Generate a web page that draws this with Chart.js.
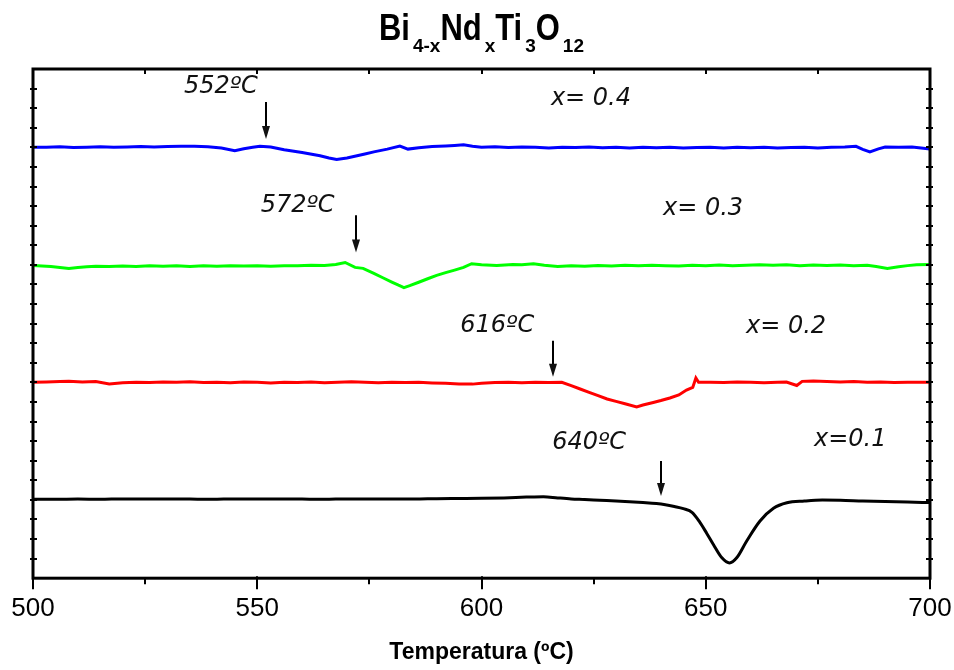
<!DOCTYPE html>
<html>
<head>
<meta charset="utf-8">
<script src="https://cdn.jsdelivr.net/npm/chart.js@4"></script>
<style>
  html, body { margin: 0; padding: 0; background: #ffffff; }
  canvas { display: block; }
</style>
</head>
<body>
<canvas id="dta" width="954" height="670"></canvas>
<script>
// Temperature axis (ºC)
const xMin = 500;
const xMax = 700;
const xMajorStep = 50;

// DTA traces, offset vertically per composition (arbitrary units)
const blueT = [500, 503, 506, 509, 512, 515, 518, 521, 524, 527, 530, 533, 536, 539, 542, 545, 547, 549, 550.6, 553,
  556, 560, 564, 566, 567.7, 570, 572, 574, 576, 579, 581.8, 583.6, 586, 589, 592, 594, 596, 598, 600, 603,
  606, 609, 612, 615, 618, 621, 624, 627, 630, 633, 636, 639, 642, 645, 648, 651, 654, 657, 660, 663,
  666, 669, 672, 675, 678, 681, 683.5, 685, 686.6, 688.5, 690, 693, 696, 698, 700];
const blueV = [22.01, 22.00, 22.03, 21.99, 22.01, 22.03, 22.00, 22.02, 22.04, 22.02, 22.04, 22.06, 22.05, 22.03, 21.97, 21.83, 21.93, 22.00, 22.06, 22.02,
  21.88, 21.74, 21.57, 21.46, 21.38, 21.46, 21.56, 21.66, 21.77, 21.91, 22.06, 21.91, 21.98, 22.04, 22.07, 22.10, 22.13, 22.06, 22.01, 22.03,
  21.99, 22.02, 22.00, 21.97, 22.01, 21.99, 22.02, 21.98, 22.00, 21.96, 22.00, 21.98, 22.01, 21.97, 21.99, 22.01, 21.97, 22.00, 21.98, 22.01,
  21.97, 21.99, 22.00, 21.97, 22.00, 22.02, 22.05, 21.90, 21.77, 21.92, 22.02, 22.00, 22.02, 21.97, 21.92];

const greenT = [500, 502, 504, 506, 508, 510, 512, 514, 517, 520, 523, 526, 529, 532, 535, 538, 541, 544, 547, 550,
  553, 556, 559, 562, 565, 567.5, 569.6, 571.8, 573.6, 576, 578, 580, 581.5, 582.7, 584, 586, 588, 590, 592, 594,
  596, 597.8, 600, 603.4, 607, 609, 611.6, 614, 617, 620, 623, 626, 629, 632, 635, 638, 641, 644, 647, 650,
  653, 656, 659, 662, 665, 668, 671, 674, 677, 680, 683, 686, 688, 690.5, 693, 695, 697, 700];
const greenV = [15.97, 15.94, 15.92, 15.87, 15.82, 15.86, 15.90, 15.93, 15.91, 15.94, 15.92, 15.95, 15.93, 15.96, 15.92, 15.95, 15.93, 15.96, 15.94, 15.96,
  15.93, 15.96, 15.95, 15.98, 15.97, 16.02, 16.12, 15.87, 15.82, 15.56, 15.34, 15.12, 14.96, 14.84, 14.94, 15.11, 15.29, 15.46, 15.60, 15.73,
  15.87, 16.06, 16.00, 15.97, 16.02, 16.00, 16.06, 15.98, 15.92, 15.96, 15.93, 15.97, 15.94, 15.98, 15.95, 15.98, 15.96, 15.94, 15.98, 15.95,
  15.99, 15.96, 15.98, 16.01, 15.98, 16.00, 15.96, 15.99, 15.97, 15.99, 15.96, 15.98, 15.92, 15.82, 15.90, 15.96, 16.00, 16.02];

const redT = [500, 503, 506, 508, 511, 514, 517, 520, 523, 526, 529, 532, 535, 538, 541, 544, 547, 550, 553, 556,
  559, 562, 565, 568, 571, 574, 577, 580, 583, 586, 589, 592, 595, 598, 600, 603, 606, 609, 612, 615,
  617.9, 620, 622, 624, 626, 628, 630, 632, 634.6, 636, 638.3, 640, 642, 644, 645.7, 647.1, 647.8, 648.4, 651, 654,
  657, 660, 663, 666, 668, 670.3, 671.5, 674, 677, 680, 683, 686, 689, 692, 695, 698, 700];
const redV = [10.00, 10.02, 10.04, 10.06, 10.02, 10.04, 9.92, 9.98, 10.01, 9.99, 10.02, 10.00, 10.03, 9.99, 10.01, 9.98, 10.02, 10.00, 9.97, 10.01,
  9.99, 10.02, 9.98, 10.00, 10.03, 10.00, 9.98, 10.01, 9.99, 10.00, 9.97, 9.95, 9.92, 9.91, 9.96, 9.99, 10.01, 9.98, 10.00, 9.99,
  10.00, 9.83, 9.66, 9.49, 9.32, 9.15, 9.03, 8.91, 8.75, 8.84, 8.97, 9.07, 9.20, 9.36, 9.61, 9.74, 10.22, 10.00, 10.01, 9.99,
  10.02, 10.00, 9.98, 10.01, 10.02, 9.84, 10.05, 10.07, 10.04, 10.02, 10.04, 10.00, 10.02, 9.99, 10.01, 10.00, 10.00];

const blackT = [500, 505, 510, 515, 520, 525, 530, 535, 540, 545, 550, 555, 560, 565, 570, 575, 580, 585, 590, 595,
  600, 605, 610, 613.8, 617, 620, 623, 626.4, 630, 633, 636, 639, 641, 643, 645, 647, 648.7, 650.2, 651.7, 653.6,
  655.3, 656.9, 659.1, 662.1, 665.1, 668.1, 672, 676, 680, 685, 690, 695, 700];
const blackV = [4.03, 4.03, 4.04, 4.03, 4.05, 4.04, 4.05, 4.04, 4.03, 4.05, 4.04, 4.05, 4.04, 4.03, 4.05, 4.04, 4.05, 4.04, 4.06, 4.07,
  4.08, 4.10, 4.14, 4.16, 4.10, 4.05, 4.02, 3.98, 3.94, 3.90, 3.86, 3.81, 3.75, 3.66, 3.55, 3.35, 2.85, 2.30, 1.72, 1.04,
  0.78, 1.04, 1.89, 2.92, 3.57, 3.85, 3.94, 3.99, 3.98, 3.94, 3.91, 3.89, 3.86];

// Onset temperatures marked with arrows, and composition labels
const onsetTemps = [552, 572, 616, 640];
const onsetLabels = ['552ºC', '572ºC', '616ºC', '640ºC'];
const compositionLabels = ['x= 0.4', 'x= 0.3', 'x= 0.2', 'x=0.1'];

// Where annotations sit, in axis units (temperature, signal)
const onsetTextAt = [[541.9, 24.77], [559.0, 18.68], [603.5, 12.55], [624.0, 6.60]];
const arrowSpan = [[24.31, 22.42], [18.53, 16.63], [12.13, 10.29], [5.99, 4.20]];
const compositionTextAt = [[624.4, 24.16], [649.4, 18.53], [667.9, 12.54], [682.2, 6.76]];

const SANS = '"Liberation Sans", Arial, Helvetica, sans-serif';
const NOTE_FONT = 'italic 24px "DejaVu Sans", "Liberation Sans", sans-serif';

function toPoints(ts, vs) {
  return ts.map((t, i) => ({ x: t, y: vs[i] }));
}

// Full box frame with Origin-style major and minor ticks
const framePlugin = {
  id: 'frame',
  afterDatasetsDraw(chart) {
    const { ctx, chartArea: a, scales } = chart;
    const xs = scales.x, ys = scales.y;
    ctx.save();
    ctx.strokeStyle = '#000';
    ctx.lineWidth = 3;
    ctx.strokeRect(a.left, a.top, a.right - a.left, a.bottom - a.top);
    ctx.lineWidth = 2;
    ctx.beginPath();
    xs.ticks.forEach(tk => {
      const px = Math.round(xs.getPixelForValue(tk.value));
      ctx.moveTo(px, a.bottom - 2); ctx.lineTo(px, a.bottom + 11);
    });
    for (let v = xMin + 25; v < xMax; v += 50) {
      const px = Math.round(xs.getPixelForValue(v));
      ctx.moveTo(px, a.bottom); ctx.lineTo(px, a.bottom + 6);
    }
    for (let v = xMin + 25; v < xMax; v += 25) {
      const px = Math.round(xs.getPixelForValue(v));
      ctx.moveTo(px, a.top); ctx.lineTo(px, a.top + 5);
    }
    for (let v = ys.min + 1; v < ys.max; v += 1) {
      const py = Math.round(ys.getPixelForValue(v));
      ctx.moveTo(a.left - 3, py); ctx.lineTo(a.left + 4, py);
      ctx.moveTo(a.right - 4, py); ctx.lineTo(a.right + 3, py);
    }
    ctx.stroke();
    ctx.restore();
  }
};

// Onset arrows and text notes
const notesPlugin = {
  id: 'notes',
  afterDraw(chart) {
    const { ctx, scales } = chart;
    const xs = scales.x, ys = scales.y;
    ctx.save();
    ctx.fillStyle = '#111';
    ctx.strokeStyle = '#000';
    ctx.font = NOTE_FONT;
    ctx.textAlign = 'center';
    ctx.textBaseline = 'alphabetic';
    onsetTemps.forEach((t, i) => {
      ctx.fillText(onsetLabels[i], xs.getPixelForValue(onsetTextAt[i][0]), ys.getPixelForValue(onsetTextAt[i][1]));
      ctx.fillText(compositionLabels[i], xs.getPixelForValue(compositionTextAt[i][0]), ys.getPixelForValue(compositionTextAt[i][1]));
      const px = Math.round(xs.getPixelForValue(t));
      const y0 = ys.getPixelForValue(arrowSpan[i][0]);
      const y1 = ys.getPixelForValue(arrowSpan[i][1]);
      ctx.lineWidth = 2;
      ctx.beginPath();
      ctx.moveTo(px, y0);
      ctx.lineTo(px, y1 - 10);
      ctx.stroke();
      ctx.beginPath();
      ctx.moveTo(px - 4, y1 - 13);
      ctx.lineTo(px + 4, y1 - 13);
      ctx.lineTo(px, y1);
      ctx.closePath();
      ctx.fill();
    });
    ctx.restore();
  }
};

// Chemical formula title with subscripts
const formulaPlugin = {
  id: 'formula',
  afterDraw(chart) {
    const { ctx, chartArea: a } = chart;
    const parts = [['Bi', false], ['4-x', true], ['Nd', false], ['x', true], ['Ti', false], ['3', true], ['O', false], ['12', true]];
    const mainFont = 'bold 36px ' + SANS;
    const subFont = 'bold 19px ' + SANS;
    const squeeze = 0.86;
    const gap = 3;
    ctx.save();
    let total = 0;
    const widths = parts.map(([s, sub]) => {
      ctx.font = sub ? subFont : mainFont;
      const w = ctx.measureText(s).width * (sub ? 1 : squeeze) + (sub ? gap : 0);
      total += w;
      return w;
    });
    let x = (a.left + a.right) / 2 - total / 2;
    const base = 40;
    ctx.fillStyle = '#000';
    ctx.textAlign = 'left';
    ctx.textBaseline = 'alphabetic';
    parts.forEach(([s, sub], i) => {
      if (sub) {
        ctx.font = subFont;
        ctx.fillText(s, x + gap, base + 12);
      } else {
        ctx.font = mainFont;
        ctx.save();
        ctx.translate(x, base);
        ctx.scale(squeeze, 1);
        ctx.fillText(s, 0, 0);
        ctx.restore();
      }
      x += widths[i];
    });
    ctx.restore();
  }
};

const traceStyle = { borderWidth: 3, pointRadius: 0, fill: false, tension: 0 };

new Chart(document.getElementById('dta').getContext('2d'), {
  type: 'line',
  data: {
    datasets: [
      Object.assign({ label: compositionLabels[0], data: toPoints(blueT, blueV), borderColor: '#0000ff' }, traceStyle),
      Object.assign({ label: compositionLabels[1], data: toPoints(greenT, greenV), borderColor: '#00ff00' }, traceStyle),
      Object.assign({ label: compositionLabels[2], data: toPoints(redT, redV), borderColor: '#ff0000' }, traceStyle),
      Object.assign({ label: compositionLabels[3], data: toPoints(blackT, blackV), borderColor: '#000000', cubicInterpolationMode: 'monotone' }, traceStyle)
    ]
  },
  options: {
    responsive: false,
    animation: false,
    devicePixelRatio: 1,
    layout: { padding: { left: 33, right: 24, top: 69, bottom: 0 } },
    plugins: { legend: { display: false }, tooltip: { enabled: false } },
    scales: {
      x: {
        type: 'linear',
        min: xMin,
        max: xMax,
        ticks: {
          stepSize: xMajorStep,
          color: '#000',
          font: { family: SANS, size: 26 },
          padding: 1,
          maxRotation: 0,
          autoSkip: false
        },
        grid: { drawOnChartArea: false, drawTicks: true, tickLength: 14, tickColor: 'rgba(0,0,0,0)', color: 'rgba(0,0,0,0)' },
        border: { display: false },
        title: {
          display: true,
          text: 'Temperatura (ºC)',
          color: '#000',
          font: { family: SANS, size: 23, weight: 'bold' },
          padding: { top: 13, bottom: 4 }
        }
      },
      y: {
        min: 0,
        max: 26,
        ticks: { display: false },
        grid: { display: false, drawTicks: false },
        border: { display: false }
      }
    }
  },
  plugins: [framePlugin, notesPlugin, formulaPlugin]
});
</script>
</body>
</html>
